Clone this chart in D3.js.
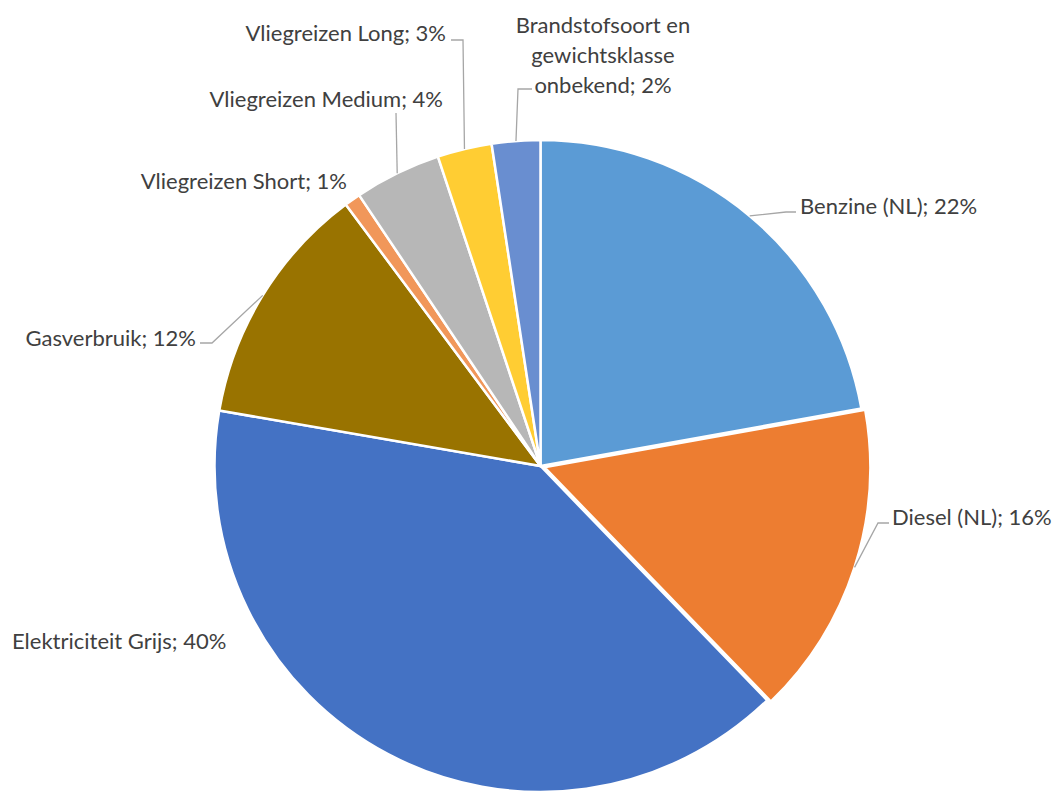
<!DOCTYPE html>
<html>
<head>
<meta charset="utf-8">
<script src="https://cdn.jsdelivr.net/npm/d3@7"></script>
<style>
  html, body { margin: 0; padding: 0; background: #fff; }
  text { font-family: Lato, "Noto Sans", sans-serif; }
</style>
</head>
<body>
<div id="chart"></div>
<script>
// --------------------
// DATA
// --------------------
const categories = [
  "Benzine (NL)",
  "Diesel (NL)",
  "Elektriciteit Grijs",
  "Gasverbruik",
  "Vliegreizen Short",
  "Vliegreizen Medium",
  "Vliegreizen Long",
  "Brandstofsoort en gewichtsklasse onbekend"
];
const values = [22.2, 15.6, 40.0, 12.1, 0.8, 4.3, 2.7, 2.4];
const colors = ["#5B9BD5", "#ED7D31", "#4472C4", "#997300",
                "#F1975A", "#B7B7B7", "#FFCD33", "#698ED0"];
const exploded = [false, true, false, false, false, false, false, false];

// label layout: text anchor point + leader elbow (null = no leader)
const labelLayout = [
  { x: 800, y: 205, anchor: "start", elbow: [786, 212], end: [796, 212] },
  { x: 892, y: 516, anchor: "start", elbow: [878, 523], end: [889, 523] },
  { x: 12,  y: 640, anchor: "start", elbow: null },
  { x: 196, y: 337, anchor: "end",   elbow: [212, 343], end: [200, 343] },
  { x: 347, y: 180, anchor: "end",   elbow: null },
  { x: 443, y: 98,  anchor: "end",   elbow: [396, 113], end: [396, 113] },
  { x: 446, y: 32,  anchor: "end",   elbow: [463, 40],  end: [451, 40] },
  { x: 603, y: 24,  anchor: "middle", elbow: [518, 89], end: [532, 89],
    lines: ["Brandstofsoort en", "gewichtsklasse", "onbekend"] }
];

// --------------------
// CHART
// --------------------
const width = 1055;
const height = 793;
const cx = 540.5;
const cy = 466;
const radius = 326;
const explode = 4;

const svg = d3.select("#chart")
  .append("svg")
  .attr("width", width)
  .attr("height", height);

const total = d3.sum(values);
const pct = d3.format(".0%");

const pie = d3.pie()
  .sort(null)
  .value(d => d);

const arcs = pie(values);

const arc = d3.arc()
  .innerRadius(0)
  .outerRadius(radius);

const g = svg.append("g")
  .attr("transform", `translate(${cx},${cy})`);

function offset(d, i) {
  if (!exploded[i]) return [0, 0];
  const a = (d.startAngle + d.endAngle) / 2;
  return [Math.sin(a) * explode, -Math.cos(a) * explode];
}

g.selectAll("path.slice")
  .data(arcs)
  .join("path")
  .attr("class", "slice")
  .attr("d", arc)
  .attr("transform", (d, i) => `translate(${offset(d, i)})`)
  .attr("fill", (d, i) => colors[i])
  .attr("stroke", "#fff")
  .attr("stroke-width", 2.5)
  .attr("stroke-linejoin", "round");

// Leader lines
arcs.forEach((d, i) => {
  const L = labelLayout[i];
  if (!L.elbow) return;
  const a = (d.startAngle + d.endAngle) / 2;
  const o = offset(d, i);
  const start = [cx + o[0] + Math.sin(a) * radius, cy + o[1] - Math.cos(a) * radius];
  svg.append("polyline")
    .attr("points", [start, L.elbow, L.end].map(p => p.join(",")).join(" "))
    .attr("fill", "none")
    .attr("stroke", "#A6A6A6")
    .attr("stroke-width", 1.3);
});

// Labels
arcs.forEach((d, i) => {
  const L = labelLayout[i];
  const label = pct(values[i] / total);
  const t = svg.append("text")
    .attr("x", L.x)
    .attr("y", L.y)
    .attr("text-anchor", L.anchor)
    .attr("dominant-baseline", "central")
    .attr("fill", "#404040")
    .style("font-size", "22px");
  if (L.lines) {
    L.lines.forEach((line, j) => {
      t.append("tspan")
        .attr("x", L.x)
        .attr("y", L.y + j * 30)
        .text(j === L.lines.length - 1 ? `${line}; ${label}` : line);
    });
  } else {
    t.text(`${categories[i]}; ${label}`);
  }
});
</script>
</body>
</html>
